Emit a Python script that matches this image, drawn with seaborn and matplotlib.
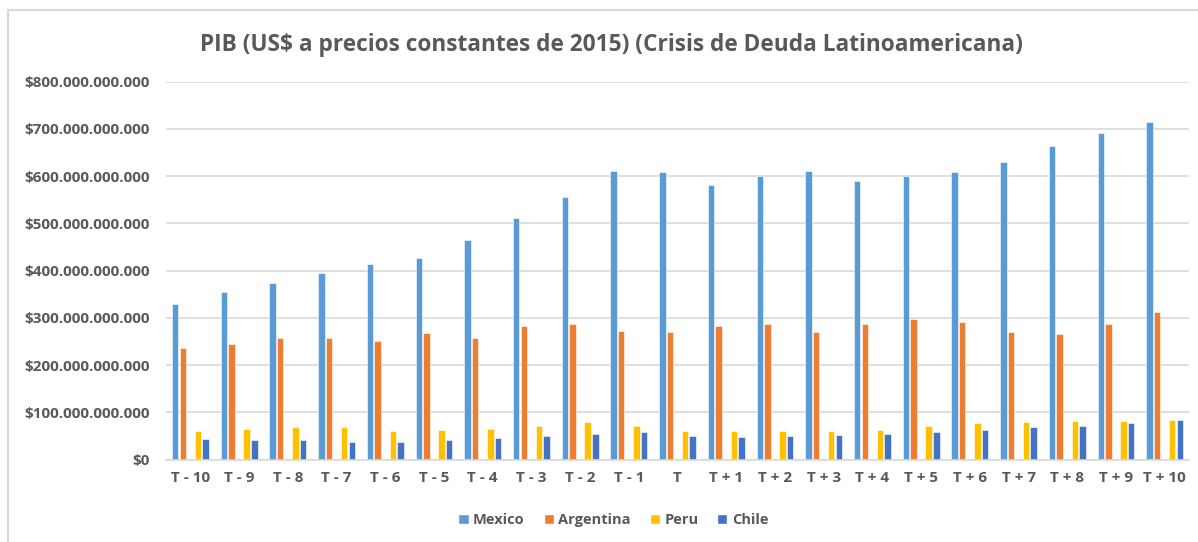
import numpy as np
import pandas as pd
import matplotlib
matplotlib.use("Agg")
import matplotlib.pyplot as plt
from matplotlib.ticker import FuncFormatter
from matplotlib.patches import Patch
from matplotlib.lines import Line2D
import seaborn as sns

# ─── Data (US$ billions) ──────────────────────────────────────────────────────

periods = ["T - 10", "T - 9", "T - 8", "T - 7", "T - 6", "T - 5", "T - 4",
           "T - 3", "T - 2", "T - 1", "T", "T + 1", "T + 2", "T + 3",
           "T + 4", "T + 5", "T + 6", "T + 7", "T + 8", "T + 9", "T + 10"]

mexico    = [329, 354, 375, 396, 414, 426, 466, 511, 556, 611, 609,
             581, 600, 612, 589, 600, 609, 631, 663, 691, 714]
argentina = [236, 244, 257, 257, 251, 268, 257, 283, 287, 273, 271,
             283, 287, 271, 288, 297, 292, 271, 265, 288, 312]
peru      = [61, 66, 69, 69, 61, 63, 66, 71, 80, 71, 61,
             60, 60, 60, 63, 71, 78, 80, 83, 83, 85]
chile     = [44, 42, 42, 37, 38, 42, 46, 50, 54, 58, 50,
             48, 50, 52, 54, 58, 63, 69, 71, 78, 85]

countries = ["Mexico", "Argentina", "Peru", "Chile"]
colors = ["#5B9BD5", "#ED7D31", "#FFC000", "#4472C4"]

rows = []
for name, vals in zip(countries, [mexico, argentina, peru, chile]):
    for p, v in zip(periods, vals):
        rows.append({"period": p, "country": name, "gdp": v * 1e9})
df = pd.DataFrame(rows)

# Excel left an empty series slot between Argentina and Peru
hue_order = ["Mexico", "Argentina", " ", "Peru", "Chile"]
palette = {"Mexico": colors[0], "Argentina": colors[1], " ": "white",
           "Peru": colors[2], "Chile": colors[3]}

# ─── Plot ─────────────────────────────────────────────────────────────────────

sns.set_theme(style="white")
plt.rcParams["font.family"] = ["Open Sans", "DejaVu Sans"]

fig = plt.figure(figsize=(11.98, 5.42), dpi=100)
ax = fig.add_axes([0.1386, 0.1518, 0.8539, 0.6975])

sns.barplot(
    data=df, x="period", y="gdp", hue="country",
    order=periods, hue_order=hue_order, palette=palette, saturation=1,
    width=0.78, gap=0.15, edgecolor="white", linewidth=0.4,
    legend=False, ax=ax,
)

ax.set_ylim(0, 800e9)
ax.set_xlim(-0.5, len(periods) - 0.5)
ax.set_yticks(np.arange(0, 801e9, 100e9))
ax.yaxis.set_major_formatter(
    FuncFormatter(lambda v, _: "$" + f"{int(round(v)):,}".replace(",", "."))
)
ax.grid(axis="y", color="#D9D9D9", linewidth=1.2)
ax.set_axisbelow(True)
for side in ["top", "right", "left"]:
    ax.spines[side].set_visible(False)
ax.spines["bottom"].set_color("#D9D9D9")
ax.spines["bottom"].set_linewidth(1.2)
ax.tick_params(axis="both", length=0, colors="#595959", labelsize=11)
for lbl in ax.get_xticklabels() + ax.get_yticklabels():
    lbl.set_fontweight("bold")
ax.tick_params(axis="y", pad=12)
ax.tick_params(axis="x", pad=8)
ax.set_xlabel("")
ax.set_ylabel("")

fig.text(0.51, 0.917,
         "PIB (US$ a precios constantes de 2015) (Crisis de Deuda Latinoamericana)",
         ha="center", va="center", fontsize=16.3, fontweight="bold",
         color="#595959")

handles = [Patch(facecolor=c, label=n) for n, c in zip(countries, colors)]
fig.legend(handles=handles, loc="center", bbox_to_anchor=(0.512, 0.04),
           ncol=4, frameon=False, handlelength=0.7, handleheight=0.7,
           handletextpad=0.3, columnspacing=1.3,
           prop={"size": 10.5, "weight": "bold"}, labelcolor="#595959")

# chart frame: only the top and left edges are inside the screenshot
frame_kw = dict(transform=fig.transFigure, color="#D9D9D9", linewidth=1.5)
fig.lines.append(Line2D([0.0065, 0.0065], [0.0, 0.982], **frame_kw))
fig.lines.append(Line2D([0.0065, 1.0], [0.982, 0.982], **frame_kw))

fig.savefig("out.png", dpi=100)
